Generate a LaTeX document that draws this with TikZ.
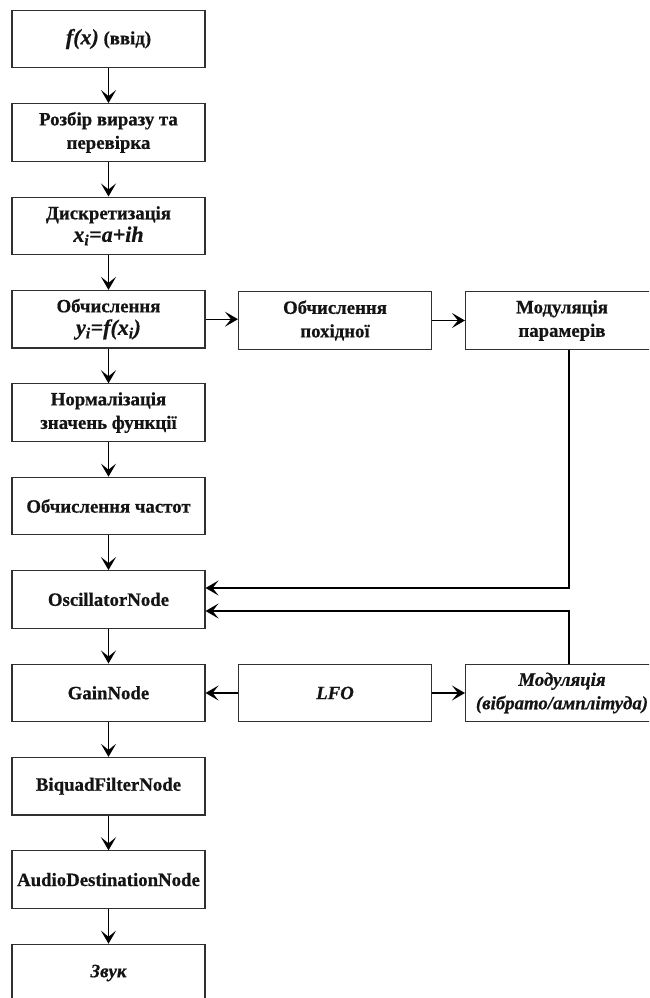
\documentclass[tikz,border=0pt]{standalone}
\usepackage{fontspec}
\setmainfont{Liberation Serif}[BoldFeatures={FakeBold=0.6},BoldItalicFeatures={FakeBold=0.6}]
\usetikzlibrary{arrows.meta}
\definecolor{inkc}{HTML}{141414}
\definecolor{boxc}{HTML}{303030}
\tikzset{
  stepbox/.style={draw=boxc, line width=1.1pt, fill=white, minimum width=193pt, minimum height=57.5pt,
    inner sep=2pt, align=center, text=inkc, font=\fontsize{18.8}{23.5}\selectfont\bfseries},
  arr/.style={draw=black, line width=1.4pt, -{Stealth[length=13pt,width=15pt,inset=6pt]}}
}
\newcommand{\bigf}{\fontsize{22}{24}\selectfont\bfseries\itshape}
\begin{document}
\begin{tikzpicture}[x=1pt,y=-1pt]
\useasboundingbox (0,0) rectangle (649,998);
\clip (0,0) rectangle (649,998);
\node[stepbox] (n1) at (108.5,39) {{\bigf f(x)} (ввід)};
\node[stepbox] (n2) at (108.5,132.4) {Розбір виразу та\\перевірка};
\node[stepbox] (n3) at (108.5,225.8) {Дискретизація\\[-1pt]{\bigf x\textsubscript{i}=a+ih}};
\node[stepbox] (n4) at (108.5,319.2) {Обчислення\\[-1pt]{\bigf y\textsubscript{i}=f(x\textsubscript{i})}};
\node[stepbox] (n5) at (108.5,412.6) {Нормалізація\\значень функції};
\node[stepbox] (n6) at (108.5,506) {Обчислення частот};
\node[stepbox] (osc) at (108.5,599.4) {OscillatorNode};
\node[stepbox] (gain) at (108.5,692.8) {GainNode};
\node[stepbox] (biq) at (108.5,786.2) {BiquadFilterNode};
\node[stepbox] (aud) at (108.5,879.6) {AudioDestinationNode};
\node[stepbox] (snd) at (108.5,973) {\itshape Звук};
\node[stepbox] (der) at (335,320.5) {Обчислення\\похідної};
\node[stepbox] (mp) at (562,320.5) {Модуляція\\парамерів};
\node[stepbox] (lfo) at (335,693) {\itshape LFO};
\node[stepbox] (mv) at (562,693) {\itshape Модуляція\\\itshape (вібрато/амплітуда)};
\draw[arr] (n1) -- (n2);
\draw[arr] (n2) -- (n3);
\draw[arr] (n3) -- (n4);
\draw[arr] (n4) -- (n5);
\draw[arr] (n5) -- (n6);
\draw[arr] (n6) -- (osc);
\draw[arr] (osc) -- (gain);
\draw[arr] (gain) -- (biq);
\draw[arr] (biq) -- (aud);
\draw[arr] (aud) -- (snd);
\draw[arr] (n4.east) -- (der.west |- n4.east);
\draw[arr] (der) -- (mp);
\draw[arr] (lfo) -- (gain.east |- lfo.west);
\draw[arr] (lfo) -- (mv);
\draw[arr] ([xshift=104pt]mp.south west) |- ([yshift=11.4pt]osc.east);
\draw[arr] ([xshift=104pt]mv.north west) |- ([yshift=-11.6pt]osc.east);
\end{tikzpicture}
\end{document}
